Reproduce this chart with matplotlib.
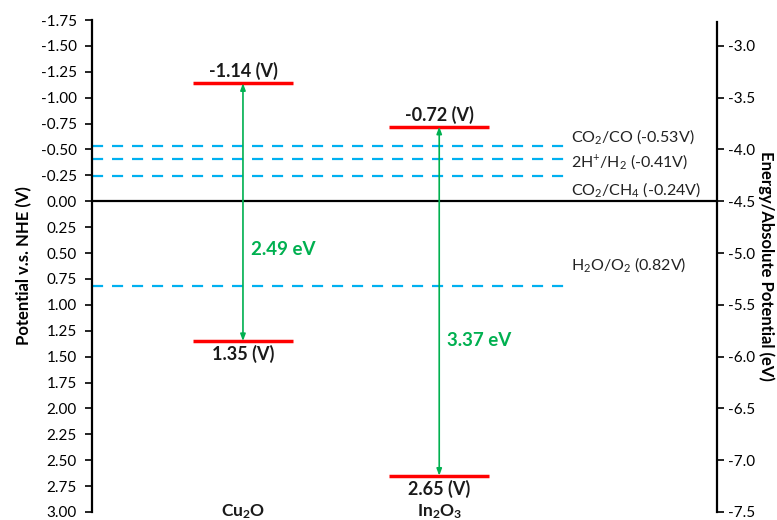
import numpy as np
import matplotlib.pyplot as plt

plt.rcParams['font.family'] = ['Lato', 'DejaVu Sans']
plt.rcParams['mathtext.fontset'] = 'custom'
plt.rcParams['mathtext.rm'] = 'Lato'
plt.rcParams['mathtext.bf'] = 'Lato:bold'
plt.rcParams['mathtext.default'] = 'regular'

# band edges (V vs NHE)
materials = [r'$\mathbf{Cu_2O}$', r'$\mathbf{In_2O_3}$']
cb = [-1.14, -0.72]
vb = [1.35, 2.65]
gaps = ['2.49 eV', '3.37 eV']
gap_label_y = [0.47, 1.34]

# redox potentials
redox_names = ['CO$_2$/CO (-0.53V)', '2H$^{+}$/H$_2$ (-0.41V)', 'CO$_2$/CH$_4$ (-0.24V)', 'H$_2$O/O$_2$ (0.82V)']
redox_vals = [-0.53, -0.41, -0.24, 0.82]
redox_label_y = [-0.62, -0.38, -0.11, 0.61]

left_ticks = np.arange(-1.75, 3.01, 0.25)
right_ticks = np.arange(-3.0, -7.51, -0.5)

red = '#ff0000'
green = '#00b050'
blue = '#00b0f0'

fig = plt.figure(figsize=(7.77, 5.2), dpi=100)
ax = fig.add_axes([0.1184, 0.0154, 0.8044, 0.9461])

xpos = [1.0, 2.3]
half = 0.33

ax.set_xlim(0, 4.14)
ax.set_ylim(3.0, -1.75)

# redox lines
for v, name, ly in zip(redox_vals, redox_names, redox_label_y):
    ax.plot([0, 3.13], [v, v], color=blue, lw=1.6, dashes=(5, 4))
    ax.text(3.17, ly, name, fontsize=11.5, va='center', ha='left', color='#222222')

ax.axhline(0, color='black', lw=1.6)

for x, c, v, g, gy, m in zip(xpos, cb, vb, gaps, gap_label_y, materials):
    ax.plot([x - half, x + half], [c, c], color=red, lw=2.5, solid_capstyle='butt')
    ax.plot([x - half, x + half], [v, v], color=red, lw=2.5, solid_capstyle='butt')
    ax.annotate('', xy=(x, c), xytext=(x, v),
                arrowprops=dict(arrowstyle='<|-|>,head_length=0.4,head_width=0.15', color=green, lw=1.2,
                                shrinkA=0, shrinkB=0))
    ax.text(x, c - 0.03, '%.2f (V)' % c, ha='center', va='bottom', fontsize=13, fontweight='bold', color='#1a1a1a')
    ax.text(x, v + 0.04, '%.2f (V)' % v, ha='center', va='top', fontsize=13, fontweight='bold', color='#1a1a1a')
    ax.text(x + 0.05, gy, g, ha='left', va='center', fontsize=13.5, fontweight='bold', color=green)
    ax.text(x, 3.0, m, ha='center', va='center', fontsize=12.5, color='#1a1a1a')

ax.set_yticks(left_ticks)
ax.set_yticklabels(['%.2f' % t for t in left_ticks], fontsize=11)
ax.set_xticks([])
ax.set_ylabel('Potential v.s. NHE (V)', fontsize=12, fontweight='bold', labelpad=6)
for s in ['top', 'bottom', 'right']:
    ax.spines[s].set_visible(False)
ax.spines['left'].set_linewidth(1.6)
ax.tick_params(axis='y', length=5, width=1.2, pad=6)

# absolute energy scale: E = -4.5 - V
ax2 = ax.twinx()
ax2.set_ylim(-4.5 - 3.0, -4.5 + 1.75)
ax2.set_yticks(right_ticks)
ax2.set_yticklabels(['%.1f' % t for t in right_ticks], fontsize=11)
for s in ['top', 'bottom', 'left']:
    ax2.spines[s].set_visible(False)
ax2.spines['right'].set_linewidth(1.6)
ax2.spines['right'].set_bounds(-7.5, -2.77)
ax2.tick_params(axis='y', length=5, width=1.2, pad=3)
ax2.set_ylabel('Energy/Absolute Potential (eV)', fontsize=12, fontweight='bold', rotation=270, labelpad=14)

fig.savefig('out.png', dpi=100)
